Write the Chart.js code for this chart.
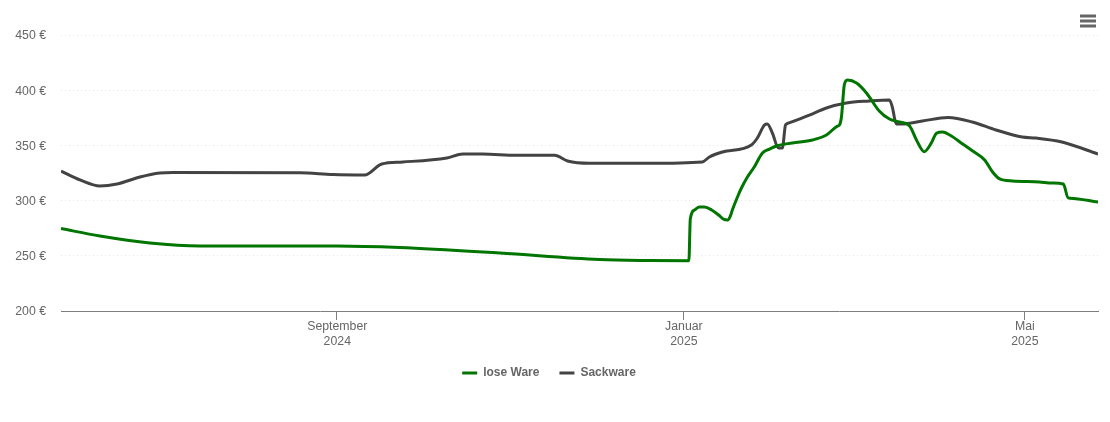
<!DOCTYPE html>
<html>
<head>
<meta charset="utf-8">
<script src="https://cdn.jsdelivr.net/npm/chart.js@4"></script>
<style>
  html, body { margin: 0; padding: 0; background: #fff; }
  #wrap { width: 1110px; height: 422px; position: relative; }
</style>
</head>
<body>
<div id="wrap"><canvas id="preisChart" width="1110" height="422"></canvas></div>
<script>
// x values are days counted from 1 September 2024
const axisStart = -97;
const axisEnd = 268;
const tickDays = [0, 122, 242];
const tickLabels = [["September", "2024"], ["Januar", "2025"], ["Mai", "2025"]];

const loseDays = [-97, -83.3, -65.7, -48.1, 0, 22.2, 57.4, 92.5, 110.1, 124, 124.5, 126, 127.7, 129.5, 132, 134.7, 136.1, 137.6, 138.6, 139.3, 141.1, 142.5, 144.6, 147, 149.9, 152.4, 154.8, 160.4, 167.5, 172.4, 176.3, 177, 177.7, 178.7, 179.8, 183, 186.5, 191, 194.6, 198.1, 201.7, 204.1, 206.8, 209.3, 211.2, 213.3, 215.8, 220.4, 223.9, 228.1, 230.9, 233.4, 237.9, 247.3, 251.9, 255.8, 257.5, 258.2, 268];
const losePrices = [274.7, 267.9, 261.6, 258.9, 258.9, 257.5, 252.5, 246.6, 245.7, 245.5, 283.3, 291.5, 294.2, 294.2, 291.5, 286.5, 283.3, 282.4, 286, 291.5, 303.3, 311.4, 321.4, 330.4, 343.1, 346.7, 349.5, 352.2, 354.9, 359.4, 367.5, 368.5, 375.7, 404.7, 409.2, 406.5, 397.5, 381.2, 373.9, 371.2, 367.6, 354.9, 344.3, 352, 361.2, 362.1, 359.4, 351.3, 344.9, 336.8, 325.9, 319.6, 317.8, 316.9, 316, 315, 302.4, 302.2, 298.7];

const sackDays = [-97, -90.3, -83.3, -77.3, -69.2, -62.2, -57.6, -12.9, -1.3, 9.9, 15.9, 23.3, 38.8, 44.4, 51.4, 63.4, 76.7, 81.3, 89, 110.1, 128.7, 131.2, 135.8, 146, 148.1, 150.6, 151.6, 153.4, 155.5, 156.9, 158, 158.5, 166.4, 172.4, 179.4, 187.5, 194.6, 195.6, 197, 199.1, 206.2, 215.2, 223.8, 232.1, 241.3, 246.2, 255.3, 268];
const sackPrices = [326.8, 318.7, 313.2, 315, 321.4, 325, 325.5, 325.3, 323.6, 323.2, 333.2, 335, 338.6, 342.2, 342.2, 341, 341, 335.9, 333.8, 333.8, 335, 339.5, 344, 350.4, 356.7, 368.5, 369.4, 361.2, 347.6, 347.6, 368.5, 369.6, 377.5, 383.9, 388.4, 390.2, 391.1, 384.8, 369.4, 369.4, 372.1, 375.3, 371.2, 364, 357.6, 356.7, 353.1, 342.2];

const textColor = "#666666";
const fontFamily = "'Liberation Sans', Arial, sans-serif";

function toPoints(days, prices) {
  return days.map((d, i) => ({ x: d, y: prices[i] }));
}

// Menue-Symbol oben rechts
const menuIcon = {
  id: "menuIcon",
  afterDraw(chart) {
    const ctx = chart.ctx;
    ctx.save();
    ctx.fillStyle = textColor;
    [16, 21, 26].forEach((y) => ctx.fillRect(1080, y - 1.5, 16, 3));
    ctx.restore();
  },
};

new Chart(document.getElementById("preisChart"), {
  type: "line",
  plugins: [menuIcon],
  data: {
    datasets: [
      {
        label: "lose Ware",
        data: toPoints(loseDays, losePrices),
        borderColor: "#007500",
        backgroundColor: "#007500",
        borderWidth: 3,
        pointRadius: 0,
        cubicInterpolationMode: "monotone",
        pointStyle: "line",
      },
      {
        label: "Sackware",
        data: toPoints(sackDays, sackPrices),
        borderColor: "#434343",
        backgroundColor: "#434343",
        borderWidth: 3,
        pointRadius: 0,
        cubicInterpolationMode: "monotone",
        pointStyle: "line",
      },
    ],
  },
  options: {
    responsive: false,
    animation: false,
    layout: { padding: { left: 0, right: 12, top: 35, bottom: 33 } },
    plugins: {
      tooltip: { enabled: false },
      legend: {
        position: "bottom",
        labels: {
          usePointStyle: true,
          pointStyleWidth: 15,
          padding: 20,
          color: textColor,
          font: { family: fontFamily, size: 12, weight: "bold" },
        },
      },
    },
    scales: {
      x: {
        type: "linear",
        min: axisStart,
        max: axisEnd,
        afterBuildTicks(scale) {
          scale.ticks = tickDays.map((d) => ({ value: d }));
        },
        afterFit(scale) {
          scale.height = 36;
        },
        border: { color: "#7f7f7f", width: 1 },
        grid: { drawOnChartArea: false, tickLength: 9, tickColor: "#7f7f7f" },
        ticks: {
          autoSkip: false,
          maxRotation: 0,
          padding: -1,
          labelOffset: 0.7,
          color: textColor,
          font: { family: fontFamily, size: 12.3, lineHeight: 1.25 },
          callback: (value, index) => tickLabels[index],
        },
      },
      y: {
        min: 200,
        max: 450,
        afterFit(scale) {
          scale.width = 61;
        },
        border: { display: false, dash: [1, 3] },
        grid: { color: "#e6e6e6", drawTicks: false, lineWidth: 1 },
        ticks: {
          stepSize: 50,
          padding: 15,
          labelOffset: 1,
          color: textColor,
          font: { family: fontFamily, size: 12.3 },
          callback: (value) => value + " €",
        },
      },
    },
  },
});
</script>
</body>
</html>
